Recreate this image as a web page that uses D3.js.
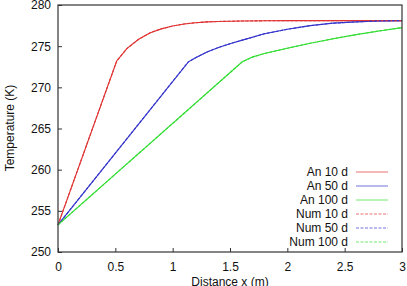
<!DOCTYPE html>
<html>
<head>
<meta charset="utf-8">
<script src="https://cdn.jsdelivr.net/npm/d3@7"></script>
<style>
  body { margin: 0; background: #fff; }
  text { font-family: "Liberation Sans", Arial, sans-serif; font-size: 12px; fill: #111; }
</style>
</head>
<body>
<svg id="chart" width="407" height="286"></svg>
<script>
// distance (m) and temperature (K)
const x10 = [0, 0.512, 0.6, 0.7, 0.8, 0.9, 1.0, 1.1, 1.2, 1.3, 1.4, 1.6, 1.8, 2.0, 2.5, 3.0]
const t10 = [253.3, 273.2, 274.7, 275.8, 276.6, 277.1, 277.45, 277.7, 277.85, 277.95, 278.0, 278.05, 278.08, 278.1, 278.1, 278.1]

const x50 = [0, 1.137, 1.2, 1.3, 1.4, 1.5, 1.6, 1.8, 2.0, 2.2, 2.4, 2.6, 2.8, 3.0]
const t50 = [253.3, 273.1, 273.6, 274.3, 274.85, 275.3, 275.7, 276.5, 277.05, 277.5, 277.8, 277.95, 278.05, 278.1]

const x100 = [0, 1.607, 1.7, 1.8, 2.0, 2.2, 2.4, 2.6, 2.8, 3.0]
const t100 = [253.3, 273.1, 273.7, 274.1, 274.75, 275.35, 275.9, 276.4, 276.85, 277.25]

// numerical runs lie on top of the analytical ones
const seriesNames = ['An 10 d', 'An 50 d', 'An 100 d', 'Num 10 d', 'Num 50 d', 'Num 100 d']
const seriesX = [x10, x50, x100, x10, x50, x100]
const seriesT = [t10, t50, t100, t10, t50, t100]

const xTicks = [0, 0.5, 1, 1.5, 2, 2.5, 3]
const yTicks = [250, 255, 260, 265, 270, 275, 280]

const colors = ['#e03333', '#3636cc', '#33dd33']

const svg = d3.select('#chart')
const padL = 58, padR = 402, padT = 5, padB = 252

const x = d3.scaleLinear().domain([0, 3]).range([padL, padR])
const y = d3.scaleLinear().domain([250, 280]).range([padB, padT])

svg.append('rect').attr('width', 407).attr('height', 286).attr('fill', '#fff')

const line = d3.line()
    .x(d => x(d[0]))
    .y(d => y(d[1]))

seriesNames.forEach((name, i) => {
    const pts = seriesX[i].map((v, j) => [v, seriesT[i][j]])
    svg.append('path')
        .datum(pts)
        .attr('d', line)
        .attr('fill', 'none')
        .attr('stroke', colors[i % 3])
        .attr('stroke-width', 1.1)
        .attr('stroke-dasharray', i < 3 ? null : '3,1.5')
})

// axes, ticks inward
const xAxis = svg.append('g')
    .attr('transform', `translate(0,${padB})`)
    .call(d3.axisBottom(x).tickValues(xTicks).tickSize(-4).tickPadding(10).tickFormat(d3.format('')))
const yAxis = svg.append('g')
    .attr('transform', `translate(${padL},0)`)
    .call(d3.axisLeft(y).tickValues(yTicks).tickSize(-4).tickPadding(7).tickFormat(d3.format('')))

;[xAxis, yAxis].forEach(g => {
    g.select('.domain').remove()
    g.selectAll('line').attr('stroke', '#333')
    g.selectAll('text').attr('font-size', 12).attr('font-family', '"Liberation Sans", Arial, sans-serif').attr('fill', '#111')
})

svg.append('rect')
    .attr('x', padL).attr('y', padT)
    .attr('width', padR - padL).attr('height', padB - padT)
    .attr('fill', 'none')
    .attr('stroke', '#333')
    .attr('stroke-width', 1.2)

svg.append('text')
    .attr('transform', 'translate(14,128) rotate(-90)')
    .attr('text-anchor', 'middle')
    .text('Temperature (K)')

svg.append('text')
    .attr('x', 230).attr('y', 286)
    .attr('text-anchor', 'middle')
    .text('Distance x (m)')

// legend
const legend = svg.append('g')
seriesNames.forEach((name, i) => {
    const ly = 172 + i * 14
    legend.append('text')
        .attr('x', 348).attr('y', ly)
        .attr('dy', '0.35em')
        .attr('text-anchor', 'end')
        .text(name)
    legend.append('line')
        .attr('x1', 356).attr('x2', 388)
        .attr('y1', ly).attr('y2', ly)
        .attr('stroke', colors[i % 3])
        .attr('stroke-width', 1)
        .attr('stroke-opacity', 0.7)
        .attr('stroke-dasharray', i < 3 ? null : '3,1.5')
})
</script>
</body>
</html>
